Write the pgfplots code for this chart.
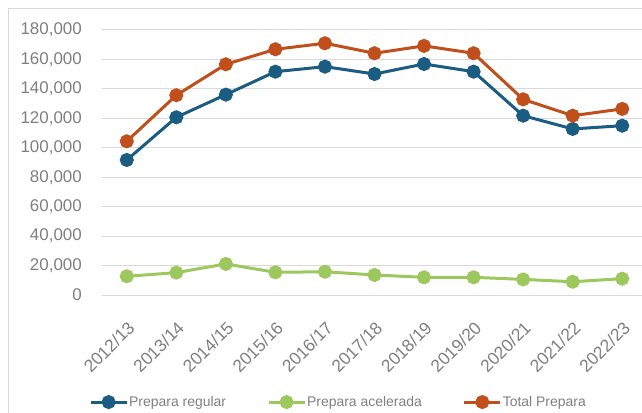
\documentclass[border=0pt]{standalone}
\usepackage{fontspec}
\setmainfont{Liberation Sans}
\usepackage{pgfplots}
\pgfplotsset{compat=1.18}
\definecolor{cblue}{HTML}{1B5C82}
\definecolor{cgreen}{HTML}{9CC85E}
\definecolor{corange}{HTML}{C14F1C}
\definecolor{cgrid}{HTML}{D9D9D9}
\definecolor{ctext}{HTML}{7F7F7F}
\begin{document}
\begin{tikzpicture}
\path[use as bounding box, clip] (0,0) rectangle (642bp,413bp);
\draw[cgrid, line width=1bp] (8.5bp,-2bp) -- (8.5bp,404.5bp) -- (650bp,404.5bp);
\begin{axis}[
  at={(102bp,118bp)}, anchor=south west,
  scale only axis, width=545bp, height=265bp,
  xmin=-0.5, xmax=10.5, ymin=0, ymax=180000,
  axis line style={draw=none},
  major tick length=0pt,
  ymajorgrids, grid style={cgrid, line width=1bp},
  xtick={0,...,10},
  xticklabels={2012/13,2013/14,2014/15,2015/16,2016/17,2017/18,2018/19,2019/20,2020/21,2021/22,2022/23},
  ytick={0,20000,...,180000},
  scaled y ticks=false,
  /pgf/number format/assume math mode=true,
  yticklabel style={/pgf/number format/fixed, /pgf/number format/1000 sep={,}, inner sep=0pt, font=\fontsize{17}{20}\selectfont, text=ctext},
  yticklabel shift=20bp,
  xticklabel style={rotate=45, anchor=north east, inner sep=0pt, font=\fontsize{17.5}{20}\selectfont, text=ctext},
  xticklabel shift=25bp,
  clip=false,
  legend columns=3,
  legend style={draw=none, fill=none, at={(0.433,-0.404)}, anchor=center,
    font=\fontsize{14}{16}\selectfont, text=ctext,
    nodes={inner sep=1bp},
    /tikz/every even column/.append style={column sep=40bp}},
  legend image code/.code={\draw[mark repeat=2,mark phase=2,#1] plot coordinates {(0bp,0bp) (18bp,0bp) (36bp,0bp)};},
  every axis plot/.append style={line width=3bp, mark=*, mark size=5.5bp},
]
\addplot[cblue, mark options={fill=cblue, draw=cblue}] coordinates {
(0,91700) (1,120700) (2,136100) (3,151700) (4,155100) (5,150100) (6,156900) (7,151700) (8,121800) (9,112800) (10,115000)};
\addlegendentry{Prepara regular}
\addplot[cgreen, mark options={fill=cgreen, draw=cgreen}] coordinates {
(0,12700) (1,15200) (2,21100) (3,15400) (4,15800) (5,13600) (6,12000) (7,12000) (8,10600) (9,9000) (10,11100)};
\addlegendentry{Prepara acelerada}
\addplot[corange, mark options={fill=corange, draw=corange}] coordinates {
(0,104400) (1,135700) (2,156700) (3,166900) (4,171000) (5,164200) (6,169200) (7,164200) (8,132900) (9,121800) (10,126400)};
\addlegendentry{Total Prepara}
\end{axis}
\end{tikzpicture}
\end{document}
